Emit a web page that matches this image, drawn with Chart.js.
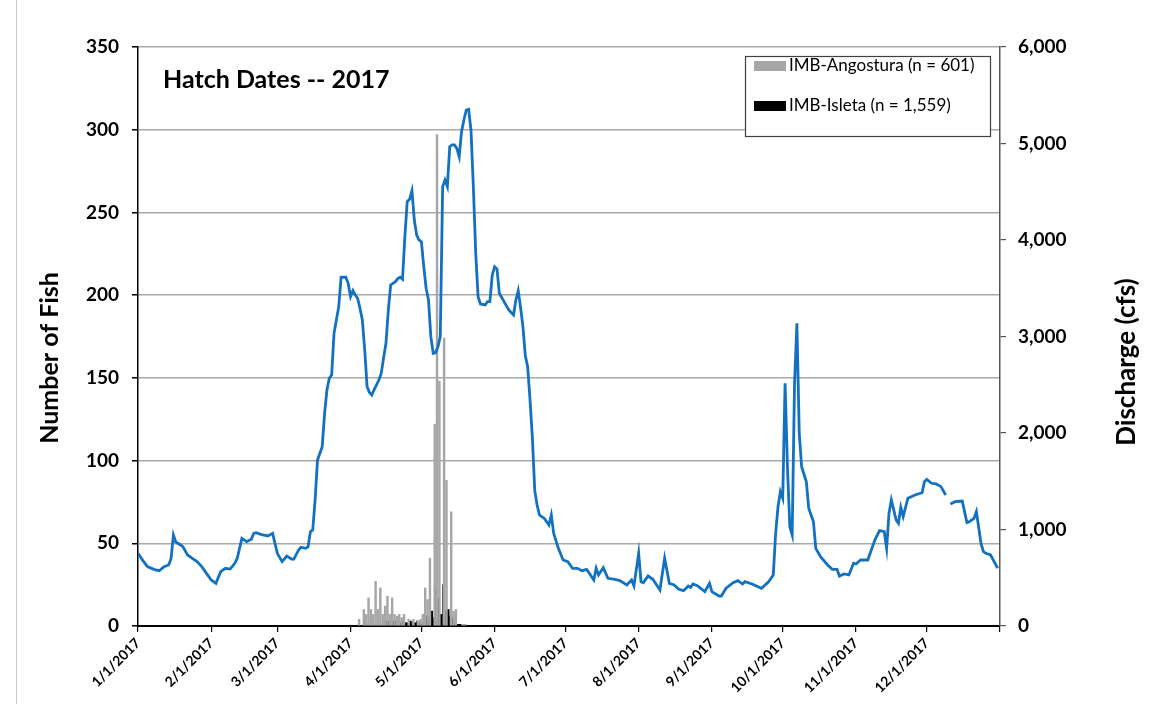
<!DOCTYPE html>
<html>
<head>
<meta charset="utf-8">
<script src="https://cdn.jsdelivr.net/npm/chart.js@4.4.1/dist/chart.umd.min.js"></script>
<style>
  html, body { margin: 0; padding: 0; background: #ffffff; }
  canvas { display: block; }
</style>
</head>
<body>
<canvas id="hatch" width="1153" height="704"></canvas>
<script>
// Day-of-year (0 = Jan 1) for each month start, plus the end of the year
const monthStartDays = [0, 31, 59, 90, 120, 151, 181, 212, 243, 273, 304, 334, 365];
const monthLabels = ['1/1/2017', '2/1/2017', '3/1/2017', '4/1/2017', '5/1/2017', '6/1/2017',
  '7/1/2017', '8/1/2017', '9/1/2017', '10/1/2017', '11/1/2017', '12/1/2017', ''];

// Fish counts per hatch day
const angosturaDays = [94, 96, 97, 98, 99, 100, 101, 102, 103, 104, 105, 106, 107, 108, 109, 110, 111, 112, 113,
  115, 117, 119, 120, 121, 122, 123, 124, 126, 127, 128, 130, 131, 133, 134, 135, 138, 139];
const angosturaCounts = [4, 10, 7, 17, 10, 7, 27, 10, 23, 7, 12, 18, 7, 17, 7, 6, 7, 5, 7,
  4, 4, 3, 4, 7, 23, 16, 41, 122, 297, 148, 174, 88, 69, 9, 10, 1, 1];

const isletaDays = [104, 105, 106, 107, 108, 109, 110, 111, 112, 113, 114, 115, 116, 117, 118, 119, 120,
  121, 122, 123, 124, 125, 126, 127, 128, 129, 130, 131, 132, 133, 134, 135, 136];
const isletaCounts = [2, 3, 3, 4, 3, 3, 2, 2, 3, 2, 2, 3, 2, 2, 3, 2, 1,
  7, 6, 4, 9, 5, 23, 17, 7, 25, 9, 10, 6, 5, 2, 1, 1];

// River discharge (cfs) by day of year; null marks missing record
const dischargeDays = [0, 2, 4, 7, 9, 11, 13, 14, 15, 16, 18, 19, 21, 23, 25, 27, 29, 31, 33, 35, 37, 39, 41, 42,
  44, 46, 48, 49, 50, 52, 55, 57, 59, 61, 63, 65, 66, 68, 69, 71, 72, 73, 74, 75, 76, 78, 79, 80, 81, 82, 83,
  85, 86, 88, 89, 90, 91, 92, 93, 94, 95, 96, 97, 98, 99, 100, 102, 103, 104, 105, 106, 107, 109, 110, 111,
  112, 113, 114, 115, 116, 117, 118, 119, 120, 121, 122, 123, 124, 125, 126, 127, 128, 129, 130, 131, 132,
  133, 134, 135, 136, 137, 138, 139, 140, 141, 142, 143, 144, 145, 147, 148, 149, 150, 151, 152, 153, 155,
  157, 159, 160, 161, 162, 163, 164, 165, 166, 167, 168, 169, 170, 172, 174, 175, 176, 178, 180, 182, 184,
  186, 188, 190, 193, 194, 195, 197, 199, 202, 204, 207, 209, 210, 212, 213, 214, 216, 218, 221, 223, 225,
  227, 229, 231, 233, 234, 235, 237, 240, 242, 243, 246, 247, 249, 252, 254, 256, 257, 260, 264, 267, 269,
  270, 271, 272, 273, 274, 275, 276, 277, 278, 279, 280, 281, 283, 284, 286, 287, 289, 292, 294, 296, 297,
  299, 301, 303, 304, 306, 309, 311, 312, 314, 316, 317, 318, 319, 321, 322, 323, 324, 326, 329, 332, 333,
  334, 336, 338, 340, 342, 343, 344, 346, 349, 351, 352, 354, 355, 357, 358, 359, 361, 364];
const dischargeCfs = [753, 680, 615, 585, 573, 615, 632, 700, 943, 870, 840, 822, 736, 700, 667, 615, 545, 477,
  442, 563, 598, 590, 650, 700, 909, 874, 900, 960, 967, 950, 933, 960, 753, 667, 725, 694, 694, 788, 815,
  805, 820, 977, 995, 1306, 1720, 1858, 2200, 2446, 2567, 2601, 3033, 3309, 3614, 3614, 3551, 3413, 3475,
  3430, 3396, 3292, 3171, 2860, 2480, 2420, 2394, 2450, 2549, 2619, 2780, 2930, 3275, 3534, 3568, 3600, 3614,
  3593, 4034, 4397, 4422, 4511, 4207, 4050, 4000, 3982, 3723, 3500, 3378, 2998, 2826, 2832, 2894, 2998, 4553,
  4622, 4553, 4967, 4985, 4985, 4950, 4864, 5123, 5244, 5347, 5354, 5140, 4553, 3862, 3413, 3337, 3327, 3361,
  3361, 3637, 3723, 3700, 3448, 3361, 3275, 3223, 3378, 3475, 3300, 3102, 2800, 2687, 2342, 1950, 1400, 1254,
  1150, 1116, 1047, 1150, 961, 805, 684, 667, 598, 598, 573, 587, 477, 598, 529, 604, 494, 484, 470, 425, 477,
  415, 753, 459, 449, 518, 484, 373, 702, 442, 425, 380, 366, 415, 401, 435, 415, 356, 442, 356, 311, 311, 391,
  449, 470, 435, 459, 435, 391, 459, 529, 961, 1237, 1392, 1323, 2515, 1651, 1029, 943, 2515, 3137, 1997,
  1651, 1495, 1220, 1081, 805, 718, 632, 587, 587, 518, 539, 529, 650, 642, 684, 684, 822, 891, 988, 977, 805,
  1168, 1306, 1100, 1064, 1230, 1133, 1323, 1358, 1381, 1495, 1520, 1479, 1472, 1444, 1358, null, 1264, 1288,
  1295, 1071, 1081, 1116, 1185, 850, 770, 753, 736, 600];

const seriesLabels = ['IMB-Angostura (n = 601)', 'IMB-Isleta (n = 1,559)', 'Discharge (cfs)'];
const chartTitle = 'Hatch Dates -- 2017';
const fishAxisTitle = 'Number of Fish';
const flowAxisTitle = 'Discharge (cfs)';

const FONT = 'Lato, "Open Sans", "DejaVu Sans", sans-serif';
Chart.defaults.font.family = FONT;
Chart.defaults.color = '#000000';

const pairs = (xs, ys) => xs.map((x, i) => ({ x: x, y: ys[i] }));

// Title, rotated axis titles, the boxed legend inside the plot and the frame edge
const chartDecor = {
  id: 'chartDecor',
  afterDraw(chart) {
    const { ctx, chartArea: a, height } = chart;
    ctx.save();

    ctx.strokeStyle = '#c8c8c8';
    ctx.lineWidth = 1;
    ctx.beginPath();
    ctx.moveTo(16.5, 0);
    ctx.lineTo(16.5, height);
    ctx.stroke();

    ctx.fillStyle = '#000000';
    ctx.font = 'bold 25px ' + FONT;
    ctx.textAlign = 'left';
    ctx.textBaseline = 'alphabetic';
    ctx.fillText(chartTitle, a.left + 25, a.top + 41);

    ctx.textAlign = 'center';
    ctx.textBaseline = 'middle';
    [[50, 358, 25, fishAxisTitle], [1127, 362, 26, flowAxisTitle]].forEach(([x, y, size, text]) => {
      ctx.save();
      ctx.font = 'bold ' + size + 'px ' + FONT;
      ctx.translate(x, y);
      ctx.rotate(-Math.PI / 2);
      ctx.fillText(text, 0, 0);
      ctx.restore();
    });

    // legend box
    const bx = a.right - 255, by = a.top + 9, bw = 245, bh = 80;
    ctx.fillStyle = '#ffffff';
    ctx.fillRect(bx, by, bw, bh);
    ctx.strokeStyle = '#404040';
    ctx.lineWidth = 1.2;
    ctx.strokeRect(bx + 0.5, by + 0.5, bw, bh);
    ctx.font = '17px ' + FONT;
    ctx.textAlign = 'left';
    ctx.textBaseline = 'middle';
    [0, 1].forEach(i => {
      const ds = chart.data.datasets[i];
      const y = by + 9 + i * 40;
      ctx.fillStyle = ds.backgroundColor;
      ctx.fillRect(bx + 9, y - 4, 32, 10);
      ctx.fillStyle = '#000000';
      ctx.fillText(ds.label, bx + 44, y + 1);
    });
    ctx.restore();
  }
};

new Chart(document.getElementById('hatch'), {
  type: 'bar',
  data: {
    datasets: [
      {
        label: seriesLabels[0],
        data: pairs(angosturaDays, angosturaCounts),
        backgroundColor: '#a6a6a6',
        barThickness: 1.8,
        yAxisID: 'y',
        order: 2
      },
      {
        label: seriesLabels[1],
        data: pairs(isletaDays, isletaCounts),
        backgroundColor: '#000000',
        barThickness: 1.8,
        yAxisID: 'y',
        order: 2
      },
      {
        type: 'line',
        label: seriesLabels[2],
        data: pairs(dischargeDays, dischargeCfs),
        borderColor: '#1271c0',
        borderWidth: 2.8,
        pointRadius: 0,
        tension: 0,
        spanGaps: false,
        yAxisID: 'y2',
        order: 1
      }
    ]
  },
  options: {
    responsive: false,
    animation: false,
    events: [],
    layout: { padding: { top: 47, left: 0, right: 0, bottom: 0 } },
    plugins: { legend: { display: false }, title: { display: false }, tooltip: { enabled: false } },
    scales: {
      x: {
        type: 'linear',
        min: 0,
        max: 365,
        offset: false,
        afterFit: s => { s.height = 78; },
        afterBuildTicks: s => { s.ticks = monthStartDays.map(v => ({ value: v })); },
        ticks: {
          autoSkip: false,
          minRotation: 45,
          maxRotation: 45,
          padding: 3,
          font: { size: 14, weight: 'bold' },
          callback: (v) => monthLabels[monthStartDays.indexOf(v)]
        },
        grid: { offset: false, drawOnChartArea: false, drawTicks: true, tickLength: 6, color: '#000000', lineWidth: 1.2 },
        border: { display: true, color: '#000000', width: 2 }
      },
      y: {
        position: 'left',
        min: 0,
        max: 350,
        afterFit: s => { s.width = 138; },
        ticks: { stepSize: 50, padding: 13, font: { size: 19, weight: 'bold' } },
        grid: { color: '#a9a9a9', lineWidth: 1.5, drawTicks: true, tickLength: 6, tickColor: '#000000' },
        border: { display: true, color: '#000000', width: 1.5 }
      },
      y2: {
        position: 'right',
        min: 0,
        max: 6000,
        afterFit: s => { s.width = 153; },
        ticks: {
          stepSize: 1000,
          padding: 12,
          font: { size: 19, weight: 'bold' },
          callback: v => v.toLocaleString('en-US')
        },
        grid: { drawOnChartArea: false, drawTicks: true, tickLength: 6, color: '#555555', lineWidth: 1.2 },
        border: { display: true, color: '#555555', width: 1.5 }
      }
    }
  },
  plugins: [chartDecor]
});
</script>
</body>
</html>
